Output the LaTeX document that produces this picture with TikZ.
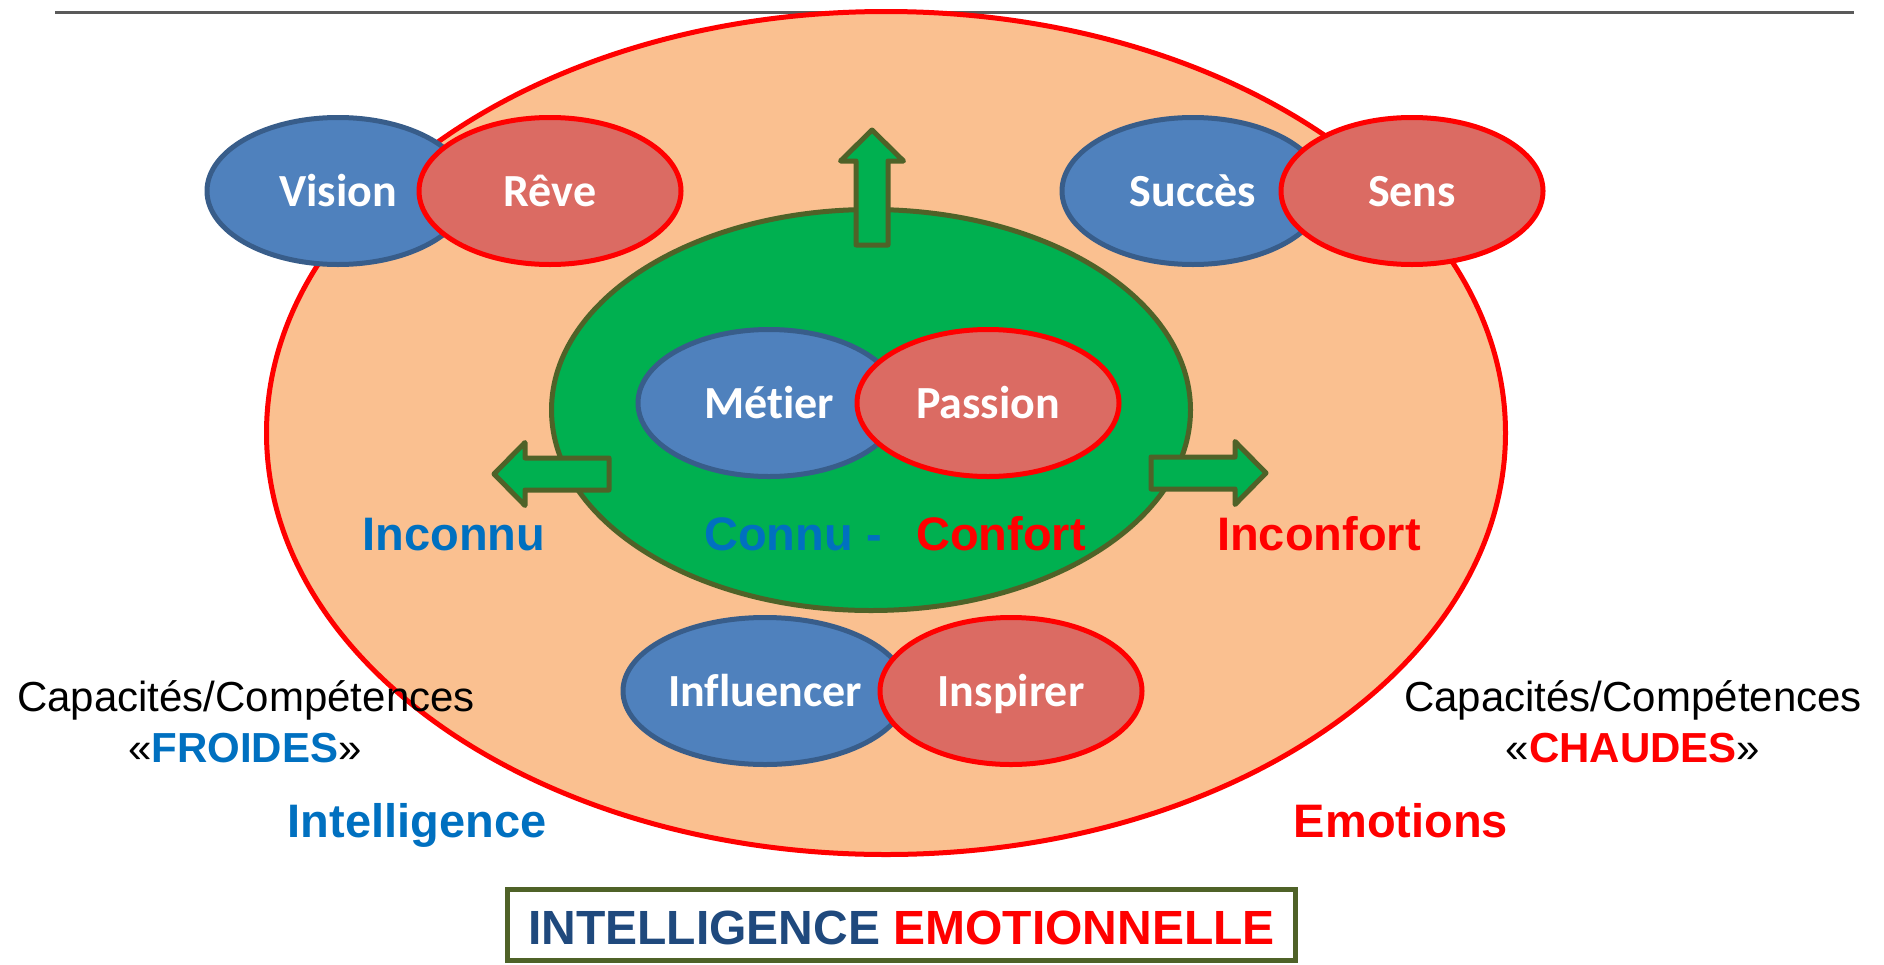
\documentclass[tikz,border=0pt]{standalone}
\usepackage{fontspec}
\setmainfont{Liberation Sans}
\newfontfamily\calibri[Ligatures={NoCommon,NoRare,NoContextual},Contextuals=NoAlternate]{Carlito}
\usetikzlibrary{shapes.geometric}

\definecolor{linegray}{RGB}{90,90,90}
\definecolor{peach}{RGB}{250,192,144}
\definecolor{leaf}{RGB}{0,176,80}
\definecolor{olive}{RGB}{79,98,40}
\definecolor{bluefill}{RGB}{79,129,189}
\definecolor{bluedark}{RGB}{56,93,138}
\definecolor{redfill}{RGB}{219,107,99}
\definecolor{textblue}{RGB}{0,112,192}
\definecolor{titleblue}{RGB}{31,73,125}

\newcommand{\greenarrow}[2]{%
\draw [arrowbox, shift={#1}, rotate=#2] (0,-16) -- (84,-16) -- (84,-31.5) -- (115,0) -- (84,31.5) -- (84,16) -- (0,16) -- cycle;}

\begin{document}
\begin{tikzpicture}[x=1pt,y=-1pt]
\tikzset{
  blob/.style={ellipse, line width=5pt, minimum width=262pt, minimum height=147pt, inner sep=0pt, text=white, font=\calibri\bfseries\fontsize{46}{50}\selectfont, text height=30pt, text depth=0pt},
  cold/.style={blob, draw=bluedark, fill=bluefill},
  warm/.style={blob, draw=red, fill=redfill},
  arrowbox/.style={draw=olive, fill=leaf, line width=5pt, line join=round},
  word/.style={anchor=base, inner sep=0pt, font=\bfseries\fontsize{47}{56}\selectfont},
  plain/.style={anchor=base, inner sep=0pt, font=\fontsize{42}{50}\selectfont}
}
\useasboundingbox (0,0) rectangle (1884,964);
\draw [linegray, line width=2.5pt] (55,12.7) -- (1854,12.7);
\node [ellipse, draw=red, fill=peach, line width=5pt, minimum width=1239pt, minimum height=843pt] (outer) at (886,433) {};
\node [ellipse, draw=olive, fill=leaf, line width=5pt, minimum width=639pt, minimum height=401pt] (comfort) at (871,410) {};
\greenarrow{(872,245)}{90}
\greenarrow{(609,474)}{180}
\greenarrow{(1151,473)}{0}
% outer ring
\node [cold] (vision) at (338,191) {Vision};
\node [warm] (reve) at (550,191) {Rêve};
\node [cold] (succes) at (1193,191) {Succès};
\node [warm] (sens) at (1412,191) {Sens};
% inner pair and bottom pair
\node [cold] (metier) at (769,403) {Métier};
\node [warm] (passion) at (988,403) {Passion};
\node [cold, minimum width=284pt] (influencer) at (765,691) {Influencer};
\node [warm] (inspirer) at (1011,691) {Inspirer};
% labels
\node [word, text=textblue] (inconnu) at (454,550) {Inconnu};
\node [word, text=textblue, anchor=base west] (connu) at (704,550) {Connu -};
\node [word, text=red, anchor=base west] (confort) at (916,550) {Confort};
\node [word, text=red] (inconfort) at (1319,550) {Inconfort};
\node [word, text=textblue] (intel) at (417,837) {Intelligence};
\node [word, text=red] (emotions) at (1401,837) {Emotions};
\node [plain] (capleft) at (246,711) {Capacités/Compétences};
\node [plain] (froides) at (245,762) {«\textcolor{textblue}{\bfseries FROIDES}»};
\node [plain] (capright) at (1633,711) {Capacités/Compétences};
\node [plain] (chaudes) at (1633,762) {«\textcolor{red}{\bfseries CHAUDES}»};
\node [draw=olive, line width=5pt, minimum width=788pt, minimum height=71pt, inner sep=0pt, text height=38pt, text depth=0pt, font=\bfseries\fontsize{48}{56}\selectfont] (title) at (901.5,925) {\textcolor{titleblue}{INTELLIGENCE} \textcolor{red}{EMOTIONNELLE}};
\end{tikzpicture}
\end{document}
